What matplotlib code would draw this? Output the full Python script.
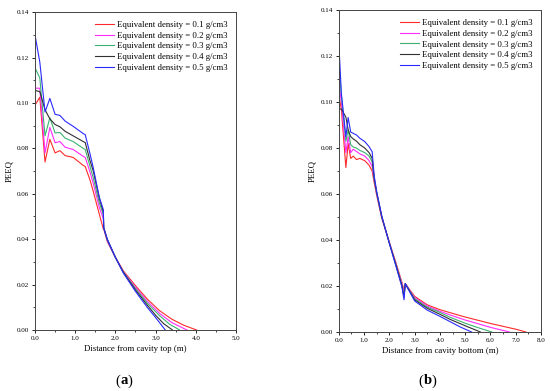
import matplotlib
matplotlib.use("Agg")
import matplotlib.pyplot as plt
from matplotlib.ticker import MultipleLocator, FormatStrFormatter

plt.rcParams['font.family'] = ['Liberation Serif', 'DejaVu Serif']

labels = ['Equivalent density = 0.1 g/cm3', 'Equivalent density = 0.2 g/cm3',
          'Equivalent density = 0.3 g/cm3', 'Equivalent density = 0.4 g/cm3',
          'Equivalent density = 0.5 g/cm3']
colors = ['#ff2a2a', '#ff2bff', '#3cb371', '#303030', '#2a2aff']

# (a) distance from cavity top
a_x_head = [0, 0.12, 0.25, 0.37, 0.5, 0.62, 0.75, 0.95, 1.2, 1.25, 1.37, 1.45, 1.6, 1.7]
a_y_head = [
    [0.099, 0.1025, 0.074, 0.084, 0.078, 0.079, 0.0768, 0.076, 0.0725, 0.072, 0.066, 0.061, 0.051, 0.0445],
    [0.1065, 0.1065, 0.078, 0.0892, 0.0825, 0.083, 0.0805, 0.0795, 0.0765, 0.076, 0.0695, 0.0645, 0.054, 0.049],
    [0.1155, 0.111, 0.0855, 0.0935, 0.0868, 0.087, 0.0845, 0.083, 0.080, 0.0795, 0.072, 0.067, 0.056, 0.051],
    [0.1055, 0.105, 0.097, 0.093, 0.0905, 0.0895, 0.0875, 0.0855, 0.083, 0.0825, 0.0745, 0.070, 0.058, 0.052],
    [0.130, 0.118, 0.096, 0.102, 0.095, 0.0945, 0.092, 0.0897, 0.0865, 0.086, 0.0775, 0.0714, 0.0585, 0.053],
]
a_x_tail = [
    [1.8, 2.0, 2.2, 2.5, 2.8, 3.1, 3.4, 3.7, 4.02],
    [1.8, 2.0, 2.2, 2.5, 2.8, 3.1, 3.4, 3.78],
    [1.8, 2.0, 2.2, 2.5, 2.8, 3.1, 3.35, 3.6],
    [1.8, 2.0, 2.2, 2.5, 2.8, 3.0, 3.2, 3.42],
    [1.8, 2.0, 2.2, 2.5, 2.8, 3.0, 3.24],
]
a_y_tail = [
    [0.039, 0.032, 0.026, 0.0195, 0.0135, 0.0085, 0.0048, 0.0021, 0.0],
    [0.039, 0.032, 0.0257, 0.0188, 0.0125, 0.0073, 0.0033, 0.0],
    [0.0395, 0.032, 0.0255, 0.0182, 0.0117, 0.0063, 0.0025, 0.0],
    [0.0398, 0.032, 0.0253, 0.0176, 0.0108, 0.0065, 0.0028, 0.0],
    [0.040, 0.032, 0.025, 0.017, 0.0098, 0.0055, 0.0],
]
a_jump = [0.0445, 0.045, 0.045, 0.045, 0.045]

# (b) distance from cavity bottom
b_x_head = [0, 0.1, 0.28, 0.37, 0.47, 0.57, 0.7, 0.83, 1.03, 1.2, 1.32, 1.4, 1.5, 1.7, 2.0, 2.25, 2.5, 2.58]
b_y_head = [
    [0.103, 0.097, 0.0715, 0.082, 0.0755, 0.0765, 0.075, 0.0755, 0.0745, 0.0725, 0.070, 0.065, 0.0595, 0.0495, 0.039, 0.0305, 0.0215, 0.018],
    [0.109, 0.100, 0.078, 0.085, 0.078, 0.0795, 0.0785, 0.0775, 0.0765, 0.0745, 0.072, 0.066, 0.060, 0.0498, 0.039, 0.030, 0.021, 0.017],
    [0.118, 0.103, 0.083, 0.088, 0.0815, 0.0805, 0.080, 0.079, 0.078, 0.0765, 0.074, 0.0665, 0.0603, 0.050, 0.0388, 0.0298, 0.0205, 0.016],
    [0.097, 0.097, 0.0935, 0.088, 0.085, 0.084, 0.083, 0.0815, 0.080, 0.078, 0.0755, 0.067, 0.0607, 0.0502, 0.0386, 0.0295, 0.020, 0.015],
    [0.126, 0.104, 0.085, 0.0933, 0.087, 0.0864, 0.0857, 0.0843, 0.0828, 0.0806, 0.0784, 0.068, 0.061, 0.0505, 0.0385, 0.029, 0.0195, 0.014],
]
b_x_tail = [
    [2.63, 3.0, 3.5, 4.0, 4.4, 5.0, 6.0, 7.0, 7.4],
    [2.63, 3.0, 3.5, 4.0, 4.4, 5.0, 6.0, 6.75],
    [2.63, 3.0, 3.5, 4.0, 4.4, 5.0, 5.5, 6.05],
    [2.63, 3.0, 3.5, 4.0, 4.4, 5.0, 5.6],
    [2.63, 3.0, 3.5, 4.0, 4.4, 4.8, 5.25],
]
b_y_tail = [
    [0.021, 0.0155, 0.0118, 0.0097, 0.0084, 0.0065, 0.0037, 0.0012, 0.0],
    [0.021, 0.015, 0.0113, 0.009, 0.0074, 0.0052, 0.002, 0.0],
    [0.021, 0.0145, 0.0108, 0.0085, 0.0064, 0.0038, 0.0019, 0.0],
    [0.021, 0.014, 0.0103, 0.0077, 0.0055, 0.0027, 0.0],
    [0.021, 0.0135, 0.0095, 0.0068, 0.0045, 0.0022, 0.0],
]


def style_axes(ax, xmax, xlabel):
    ax.set_xlim(0, xmax)
    ax.set_ylim(0, 0.14)
    ax.xaxis.set_major_locator(MultipleLocator(1.0))
    ax.xaxis.set_minor_locator(MultipleLocator(0.5))
    ax.yaxis.set_major_locator(MultipleLocator(0.02))
    ax.yaxis.set_minor_locator(MultipleLocator(0.01))
    ax.xaxis.set_major_formatter(FormatStrFormatter('%.1f'))
    ax.yaxis.set_major_formatter(FormatStrFormatter('%.2f'))
    ax.tick_params(which='major', direction='out', length=2.5, width=0.6, labelsize=5, pad=1.5)
    ax.tick_params(which='minor', direction='out', length=1.5, width=0.5)
    for s in ax.spines.values():
        s.set_linewidth(0.7)
        s.set_color('#444444')
    ax.set_xlabel(xlabel, fontsize=6.3, labelpad=3)
    ax.set_ylabel('PEEQ', fontsize=6.3, labelpad=3)
    ax.legend(loc='upper right', frameon=False, fontsize=6.3, handlelength=2.2,
              handletextpad=0.3, labelspacing=0.3, borderaxespad=0.6)


fig = plt.figure(figsize=(5.5, 3.91), dpi=100)
ax1 = fig.add_axes([0.0636, 0.156, 0.3655, 0.813])
ax2 = fig.add_axes([0.616, 0.151, 0.3676, 0.823])

for i in range(5):
    xs = a_x_head + [a_x_head[-1] + 0.01] + a_x_tail[i]
    ys = a_y_head[i] + [a_jump[i]] + a_y_tail[i]
    ax1.plot(xs, ys, color=colors[i], lw=0.8, label=labels[i])
    xs = b_x_head + b_x_tail[i]
    ys = b_y_head[i] + b_y_tail[i]
    ax2.plot(xs, ys, color=colors[i], lw=0.8, label=labels[i])

style_axes(ax1, 5.0, 'Distance from cavity top (m)')
style_axes(ax2, 8.0, 'Distance from cavity bottom (m)')

# panel labels: normal parentheses, bold letter
fig.text(0.209, 0.017, '(', fontsize=10.5)
fig.text(0.2185, 0.017, 'a', fontsize=10.5, fontweight='bold')
fig.text(0.2315, 0.017, ')', fontsize=10.5)
fig.text(0.761, 0.017, '(', fontsize=10.5)
fig.text(0.7705, 0.017, 'b', fontsize=10.5, fontweight='bold')
fig.text(0.7845, 0.017, ')', fontsize=10.5)

fig.savefig('out.png', dpi=100)
